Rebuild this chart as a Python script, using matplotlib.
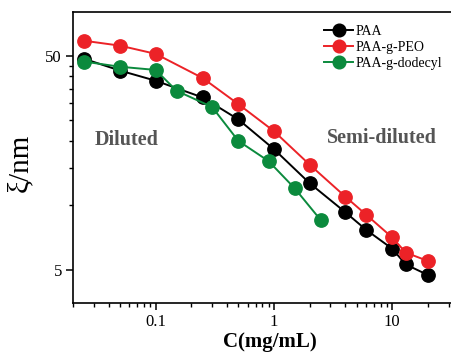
import matplotlib
matplotlib.use("Agg")
import matplotlib.pyplot as plt
from matplotlib.ticker import FixedLocator, LogLocator, NullFormatter, FixedFormatter

plt.rcParams['font.family'] = ['Liberation Serif', 'DejaVu Serif']

# concentrations (mg/mL) and correlation lengths (nm)
c_paa = [0.025, 0.05, 0.1, 0.25, 0.5, 1, 2, 4, 6, 10, 13, 20]
xi_paa = [48.3, 42.6, 38.2, 31.9, 25.2, 18.3, 12.7, 9.3, 7.7, 6.27, 5.3, 4.73]

c_peo = [0.025, 0.05, 0.1, 0.25, 0.5, 1, 2, 4, 6, 10, 13, 20]
xi_peo = [58.7, 55.7, 51.0, 39.3, 29.7, 22.2, 15.5, 11.0, 9.06, 7.08, 6.02, 5.5]

c_dod = [0.025, 0.05, 0.1, 0.15, 0.3, 0.5, 0.9, 1.5, 2.5]
xi_dod = [46.9, 44.4, 42.9, 34.3, 28.8, 20.0, 16.1, 12.0, 8.5]

labels = ["PAA", "PAA-g-PEO", "PAA-g-dodecyl"]
colors = ["#000000", "#EC2227", "#0B8A3D"]

fig = plt.figure(figsize=(4.52, 3.52), dpi=100)
ax = fig.add_axes([73/452, 49/352, 1 - 73/452, 291/352])

for cx, yy, lab, col in zip([c_paa, c_peo, c_dod], [xi_paa, xi_peo, xi_dod], labels, colors):
    ax.plot(cx, yy, "-o", color=col, lw=1.4, ms=9.6, mec=col, mfc=col, label=lab)

ax.set_xscale("log")
ax.set_yscale("log")
ax.set_xlim(0.02, 32)
ax.set_ylim(3.5, 80)

ax.xaxis.set_major_locator(FixedLocator([0.1, 1, 10]))
ax.xaxis.set_major_formatter(FixedFormatter(["0.1", "1", "10"]))
ax.xaxis.set_minor_locator(LogLocator(base=10, subs=range(2, 10)))
ax.xaxis.set_minor_formatter(NullFormatter())

ax.yaxis.set_major_locator(FixedLocator([5, 50]))
ax.yaxis.set_major_formatter(FixedFormatter(["5", "50"]))
ax.yaxis.set_minor_locator(FixedLocator([10, 15, 20, 25, 30, 35, 40, 45]))
ax.yaxis.set_minor_formatter(NullFormatter())

ax.tick_params(which="major", direction="out", length=5, width=1.1, labelsize=12, pad=3)
ax.tick_params(which="minor", direction="out", length=3, width=1.0)
ax.spines["right"].set_visible(False)
for s in ["left", "bottom", "top"]:
    ax.spines[s].set_linewidth(1.2)

ax.set_xlabel("C(mg/mL)", fontsize=15, fontweight="bold")
ax.xaxis.set_label_coords(0.52, -0.1)
ax.set_ylabel("ξ/nm", fontsize=21)
ax.yaxis.set_label_coords(-0.105, 0.48)

ax.text(0.141, 0.56, "Diluted", transform=ax.transAxes, fontsize=14.5,
        fontweight="bold", color="#555555", ha="center", va="center")
ax.text(0.815, 0.567, "Semi-diluted", transform=ax.transAxes, fontsize=14.5,
        fontweight="bold", color="#555555", ha="center", va="center")

ax.legend(loc="upper left", bbox_to_anchor=(324/452, 1 - 25/352),
          bbox_transform=fig.transFigure, frameon=False, fontsize=10,
          handlelength=2.1, handletextpad=0.2, labelspacing=0.2,
          borderpad=0, borderaxespad=0, markerscale=0.95)

fig.savefig("out.png", dpi=100)
